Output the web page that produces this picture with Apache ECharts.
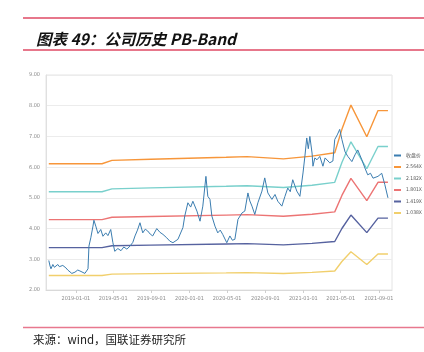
<!DOCTYPE html>
<html>
<head>
<meta charset="utf-8">
<script src="https://cdn.jsdelivr.net/npm/echarts@6/dist/echarts.min.js"></script>
<style>
html,body{margin:0;padding:0;background:#fff;}
#main{width:424px;height:352px;}
</style>
</head>
<body>
<div id="main"></div>
<script>
// 收盘价
var priceDates = ['2018-10-06','2018-10-10','2018-10-13','2018-10-19','2018-10-24','2018-10-29','2018-11-04','2018-11-09','2018-11-14','2018-11-20','2018-11-25','2018-11-30','2018-12-06','2018-12-12','2018-12-19','2018-12-29',
  '2019-01-07','2019-01-14','2019-01-20','2019-01-30','2019-02-09','2019-02-12','2019-02-18','2019-02-25','2019-02-28','2019-03-06','2019-03-13','2019-03-22','2019-03-29','2019-04-07','2019-04-14','2019-04-23','2019-04-30',
  '2019-05-06','2019-05-16','2019-05-26','2019-06-04','2019-06-14','2019-06-24','2019-07-03','2019-07-10','2019-07-18','2019-07-26','2019-08-04','2019-08-12','2019-08-20','2019-08-28','2019-09-05','2019-09-18','2019-09-28',
  '2019-10-08','2019-10-20','2019-10-30','2019-11-09','2019-11-25','2019-12-11','2019-12-17','2019-12-27',
  '2020-01-05','2020-01-12','2020-01-25','2020-02-04','2020-02-13','2020-02-23','2020-02-29','2020-03-07','2020-03-13','2020-03-23','2020-04-01','2020-04-09','2020-04-17','2020-04-30',
  '2020-05-10','2020-05-18','2020-05-26','2020-06-01','2020-06-05','2020-06-18','2020-06-27','2020-07-07','2020-07-13','2020-07-20','2020-07-29','2020-08-08','2020-08-21','2020-08-30',
  '2020-09-09','2020-09-22','2020-10-02','2020-10-11','2020-10-24','2020-11-03','2020-11-12','2020-11-20','2020-11-28','2020-12-11','2020-12-21','2020-12-31',
  '2021-01-06','2021-01-12','2021-01-17','2021-01-22','2021-01-29','2021-02-01','2021-02-07','2021-02-14','2021-02-23','2021-03-05','2021-03-12','2021-03-18','2021-03-27',
  '2021-04-06','2021-04-12','2021-04-20','2021-04-28','2021-05-05','2021-05-15','2021-05-24','2021-06-06','2021-06-16','2021-06-25','2021-07-08','2021-07-18','2021-07-27',
  '2021-08-05','2021-08-13','2021-08-29','2021-09-10','2021-09-20','2021-09-30'];
var priceValues = [2.96,2.78,2.69,2.83,2.74,2.78,2.83,2.76,2.72,2.80,2.74,2.72,2.65,2.62,2.54,2.58,
  2.65,2.62,2.58,2.54,2.69,3.43,3.70,4.08,4.27,4.08,3.84,3.97,3.75,3.86,3.77,3.97,3.54,
  3.26,3.35,3.28,3.40,3.33,3.43,3.55,3.76,3.95,4.19,3.86,3.98,3.92,3.82,3.76,4.00,3.88,
  3.81,3.70,3.59,3.54,3.65,4.03,4.41,4.84,
  4.70,4.89,4.57,4.24,4.73,5.70,5.05,4.95,4.41,4.08,3.86,3.95,3.81,3.54,
  3.76,3.62,3.65,3.59,4.30,4.51,4.57,5.16,4.90,4.73,4.46,4.84,5.22,5.65,
  5.16,4.95,5.11,4.89,4.73,5.05,5.32,5.20,5.59,5.22,5.05,5.81,
  6.35,6.95,6.60,7.00,6.46,6.03,6.30,6.24,6.35,6.03,6.30,6.24,6.14,
  6.20,6.90,7.05,7.23,6.90,6.50,6.35,6.18,6.40,6.56,6.24,5.97,5.75,
  5.80,5.64,5.70,5.80,5.43,5.00];

// PB-Band 各倍数线
var bandDates = ['2018-10-06','2019-03-26','2019-04-27','2019-08-30','2020-04-28','2020-07-04','2020-10-29','2021-01-29','2021-04-12','2021-05-05','2021-06-03','2021-07-24','2021-08-29','2021-09-30'];
var band2564 = [6.110,6.110,6.220,6.256,6.320,6.341,6.269,6.359,6.469,7.230,8.020,6.990,7.841,7.841];
var band2182 = [5.200,5.200,5.294,5.324,5.379,5.396,5.335,5.411,5.505,6.153,6.825,5.948,6.673,6.673];
var band1801 = [4.292,4.292,4.369,4.394,4.439,4.454,4.403,4.466,4.544,5.079,5.634,4.910,5.507,5.507];
var band1419 = [3.381,3.381,3.442,3.462,3.498,3.509,3.470,3.519,3.580,4.002,4.439,3.868,4.339,4.339];
var band1038 = [2.474,2.474,2.518,2.533,2.559,2.567,2.538,2.574,2.619,2.927,3.247,2.830,3.174,3.174];

var seriesNames = ['收盘价','2.564X','2.182X','1.801X','1.419X','1.038X'];
var colors = ['#3b7db0','#f7963a','#79d0cc','#ec7474','#56629f','#f1cf6c'];
var tickDates = ['2019-01-01','2019-05-01','2019-09-01','2020-01-01','2020-05-01','2020-09-01','2021-01-01','2021-05-01','2021-09-01'];

function toTime(s) {
  var p = s.split('-');
  return Date.UTC(+p[0], +p[1] - 1, +p[2]);
}
function pairs(dates, vals) {
  var out = [];
  for (var i = 0; i < dates.length; i++) out.push([toTime(dates[i]), vals[i]]);
  return out;
}
function pad(n) { return n < 10 ? '0' + n : '' + n; }

var narrow = '"Liberation Sans Narrow","DejaVu Sans Condensed","Liberation Sans","Noto Sans CJK SC",sans-serif';
var tickTimes = tickDates.map(toTime);
var bands = [band2564, band2182, band1801, band1419, band1038];

var myChart = echarts.init(document.getElementById('main'), null, {renderer: 'canvas'});

var series = [{
  name: seriesNames[0],
  type: 'line',
  data: pairs(priceDates, priceValues),
  showSymbol: false,
  symbol: 'none',
  z: 5,
  lineStyle: {width: 1, color: colors[0]},
  itemStyle: {color: colors[0]}
}];
for (var k = 0; k < bands.length; k++) {
  series.push({
    name: seriesNames[k + 1],
    type: 'line',
    data: pairs(bandDates, bands[k]),
    showSymbol: false,
    symbol: 'none',
    lineStyle: {width: 1.4, color: colors[k + 1]},
    itemStyle: {color: colors[k + 1]}
  });
}

var option = {
  animation: false,
  backgroundColor: '#fff',
  color: colors,
  title: {
    text: '图表 49：公司历史 PB-Band',
    left: 31,
    top: 26,
    textStyle: {fontSize: 15.5, fontStyle: 'italic', fontWeight: 'bold', color: '#111', fontFamily: '"Noto Sans CJK SC",sans-serif'}
  },
  graphic: [
    {type: 'line', shape: {x1: 23, y1: 18, x2: 424, y2: 18}, style: {stroke: '#df4a64', lineWidth: 1.5}},
    {type: 'line', shape: {x1: 23, y1: 50, x2: 424, y2: 50}, style: {stroke: '#df4a64', lineWidth: 1.5}},
    {type: 'line', shape: {x1: 23, y1: 327.5, x2: 424, y2: 327.5}, style: {stroke: '#e8788e', lineWidth: 1.5}},
    {type: 'text', left: 33, top: 334, style: {text: '来源：wind，国联证券研究所', fontSize: 11.5, fill: '#222', fontFamily: '"Noto Sans CJK SC",sans-serif'}}
  ],
  legend: {
    data: seriesNames,
    orient: 'vertical',
    left: 394,
    right: 0,
    top: 153,
    padding: 0,
    itemWidth: 7,
    itemHeight: 2,
    itemGap: 6.5,
    icon: 'rect',
    textStyle: {fontSize: 5, color: '#555', fontFamily: narrow, overflow: 'none', width: 30}
  },
  grid: {
    left: 46, right: 32, top: 75, bottom: 62,
    show: true, borderColor: '#e4e4e4', borderWidth: 1,
    containLabel: false
  },
  xAxis: {
    type: 'value',
    min: toTime('2018-09-27'),
    max: toTime('2021-10-13'),
    axisLine: {show: true, lineStyle: {color: '#d9d9d9'}},
    axisTick: {show: true, customValues: tickTimes, length: 3, lineStyle: {color: '#cfcfcf'}},
    axisLabel: {
      customValues: tickTimes,
      fontSize: 5.5,
      color: '#8a8a8a',
      fontFamily: narrow,
      margin: 6,
      showMinLabel: true,
      showMaxLabel: true,
      hideOverlap: false,
      formatter: function (v) {
        var d = new Date(v);
        return d.getUTCFullYear() + '-' + pad(d.getUTCMonth() + 1) + '-' + pad(d.getUTCDate());
      }
    },
    splitLine: {show: false}
  },
  yAxis: {
    type: 'value',
    min: 2,
    max: 9,
    interval: 1,
    axisLine: {show: true, lineStyle: {color: '#e0e0e0'}},
    axisTick: {show: false},
    axisLabel: {
      fontSize: 5.5, color: '#8a8a8a', fontFamily: narrow, margin: 6,
      formatter: function (v) { return v.toFixed(2); }
    },
    splitLine: {lineStyle: {color: '#ececec', width: 1}}
  },
  series: series
};
myChart.setOption(option);
</script>
</body>
</html>
